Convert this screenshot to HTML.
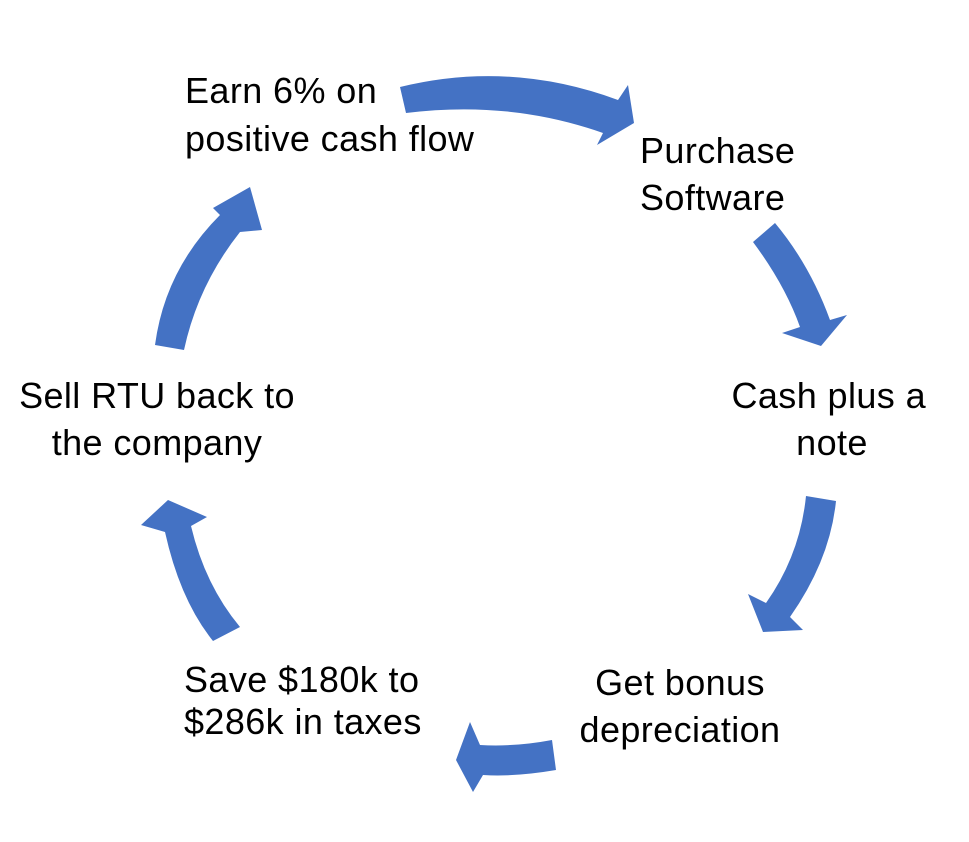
<!DOCTYPE html>
<html><head><style>
body{margin:0;background:#fff;}
svg{display:block}
text{font-family:"Liberation Sans",sans-serif;font-size:36px;fill:#000;letter-spacing:0.4px}
</style></head><body>
<svg width="969" height="842" viewBox="0 0 969 842">
<g fill="#4472C4">
<path d="M400,87 Q510,60 618,100 L628,85 L634,123 L597,145 L603,133 Q510,100 406,113 Z"/>
<path d="M753,242 L775,223 Q810,265 830,320 L847,315 L821,346 L782,333 L800,327 Q785,285 753,242 Z"/>
<path d="M806,496 L836,501 Q830,560 790,617 L803,630 L763,632 L748,594 L766,603 Q800,555 806,496 Z"/>
<path d="M552,740 L556,770 Q515,777 483,775 L473,792 L456,760 L470,722 L480,745 Q515,747 552,740 Z"/>
<path d="M213,641 Q180,600 165,532 L141,525 L168,500 L207,517 L191,526 Q205,585 240,627 Z"/>
<path d="M155,345 Q165,270 220,215 L213,208 L250,187 L262,230 L240,232 Q198,285 184,350 Z"/>
</g>
<text x="185" y="103">Earn 6% on</text>
<text x="185" y="151">positive cash flow</text>
<text x="640" y="163">Purchase</text>
<text x="640" y="210">Software</text>
<text x="926" y="408" text-anchor="end">Cash plus a</text>
<text x="832" y="455" text-anchor="middle">note</text>
<text x="680" y="695" text-anchor="middle">Get bonus</text>
<text x="680" y="742" text-anchor="middle">depreciation</text>
<text x="184" y="692">Save $180k to</text>
<text x="184" y="734">$286k in taxes</text>
<text x="157" y="408" text-anchor="middle">Sell RTU back to</text>
<text x="157" y="455" text-anchor="middle">the company</text>
</svg>
</body></html>
